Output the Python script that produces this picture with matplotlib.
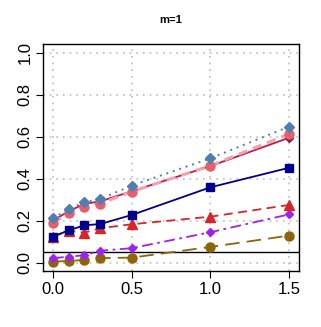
import matplotlib
matplotlib.use('Agg')
import matplotlib.pyplot as plt

plt.rcParams['font.family'] = ['Liberation Sans', 'DejaVu Sans']

# x values (shared by all series)
x = [0.0, 0.1, 0.2, 0.3, 0.5, 1.0, 1.5]

# series values
steel_dia = [0.211, 0.256, 0.288, 0.303, 0.367, 0.497, 0.648]
crimson_dia = [0.200, 0.245, 0.280, 0.292, 0.340, 0.460, 0.595]
salmon_circ = [0.190, 0.235, 0.267, 0.281, 0.338, 0.462, 0.613]
navy_sq = [0.124, 0.154, 0.178, 0.184, 0.227, 0.359, 0.452]
red_tri = [0.124, 0.152, 0.143, 0.164, 0.183, 0.219, 0.275]
purple_dia = [0.021, 0.029, 0.035, 0.057, 0.069, 0.145, 0.230]
gold_circ = [0.005, 0.008, 0.013, 0.022, 0.024, 0.075, 0.129]
ref_line = 0.05

xticks = [0.0, 0.5, 1.0, 1.5]
yticks = [0.0, 0.2, 0.4, 0.6, 0.8, 1.0]

fig = plt.figure(figsize=(3.21, 3.27), dpi=100)
ax = fig.add_axes([0.1355, 0.171, 0.7945, 0.6935])

ax.set_xlim(-0.06, 1.56)
ax.set_ylim(-0.04, 1.04)

# dotted grid like R's grid()
for xv in xticks:
    ax.axvline(xv, color='#BEBEBE', linestyle=(0, (1, 3)), linewidth=1.2, zorder=0)
for yv in yticks:
    ax.axhline(yv, color='#BEBEBE', linestyle=(0, (1, 3)), linewidth=1.2, zorder=0)

ax.axhline(ref_line, color='black', linewidth=1.0, zorder=1)

ax.plot(x, gold_circ, color='#8B6508', linestyle=(0, (8, 4)), linewidth=1.3,
        marker='o', markersize=6.5)
ax.plot(x, purple_dia, color='#A020F0', linestyle=(0, (6, 2.5, 1.5, 2.5)), linewidth=1.3,
        marker='D', markersize=4.5)
ax.plot(x, red_tri, color='#D7262B', linestyle=(0, (5, 3)), linewidth=1.3,
        marker='^', markersize=7.5)
ax.plot(x, navy_sq, color='#00008B', linestyle='-', linewidth=1.3,
        marker='s', markersize=6)
ax.plot(x, crimson_dia, color='#C8174A', linestyle='-', linewidth=1.3,
        marker='D', markersize=4.5, markerfacecolor='#8B1A4A', markeredgecolor='#8B1A4A')
ax.plot(x, salmon_circ, color='#F4A3AA', linestyle=(0, (3, 2)), linewidth=2.2,
        marker='o', markersize=6.5, markerfacecolor='#E5606A', markeredgecolor='#E5606A')
ax.plot(x, steel_dia, color='#4F7FB0', linestyle=(0, (1, 2.5)), linewidth=1.4,
        marker='D', markersize=5)

ax.set_xticks(xticks)
ax.set_xticklabels(['0.0', '0.5', '1.0', '1.5'], fontsize=12)
ax.set_yticks(yticks)
ax.set_yticklabels(['0.0', '0.2', '0.4', '0.6', '0.8', '1.0'], fontsize=12,
                   rotation=90, va='center')
ax.tick_params(direction='out', length=5, width=0.8, pad=3)

for sp in ax.spines.values():
    sp.set_linewidth(1.0)

fig.text(0.533, 0.939, 'm=1', ha='center', va='center', fontsize=8, fontweight='bold')

fig.savefig('out.png', dpi=100)
